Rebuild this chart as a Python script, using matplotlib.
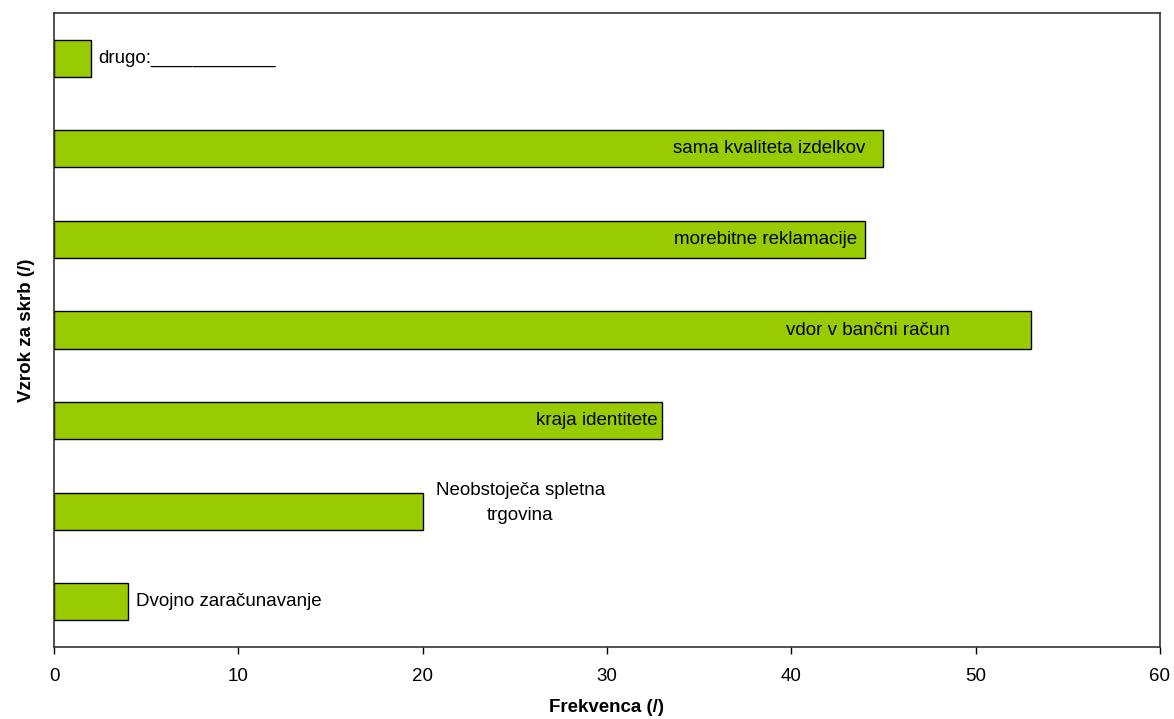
import matplotlib
matplotlib.use("Agg")
import matplotlib.pyplot as plt

plt.rcParams['font.family'] = ['Liberation Sans', 'DejaVu Sans']

categories = [
    "Dvojno zaračunavanje",
    "Neobstoječa spletna\ntrgovina",
    "kraja identitete",
    "vdor v bančni račun",
    "morebitne reklamacije",
    "sama kvaliteta izdelkov",
    "drugo:____________",
]
values = [4, 20, 33, 53, 44, 45, 2]
x_ticks = [0, 10, 20, 30, 40, 50, 60]

FS = 13.5

fig = plt.figure(figsize=(11.74, 7.19), dpi=100)
ax = fig.add_axes([0.046, 0.1001, 0.942, 0.8818])

ypos = list(range(len(values)))
ax.barh(ypos, values, height=0.41, color="#99CC00", edgecolor="black", linewidth=1.0)

ax.set_xlim(0, 60)
ax.set_ylim(-0.5, len(values) - 0.5)
ax.set_xticks(x_ticks)
ax.set_xticklabels([str(t) for t in x_ticks], fontsize=FS)
ax.set_yticks([])
ax.tick_params(axis='x', direction='out', length=5, width=1, pad=10)
for s in ax.spines.values():
    s.set_linewidth(1.2)
    s.set_color("#333333")

# label placement: (x offset from bar end, y offset, horizontal alignment)
placement = [
    (0.45, 0.0, 'left'),
    (5.3, 0.09, 'center'),
    (-0.27, 0.0, 'right'),
    (-4.4, 0.0, 'right'),
    (-0.43, 0.0, 'right'),
    (-1.0, 0.0, 'right'),
    (0.39, 0.0, 'left'),
]
for y, v, lab, (dx, dy, ha) in zip(ypos, values, categories, placement):
    ax.text(v + dx, y + dy, lab, ha=ha, va='center', fontsize=FS,
            multialignment='center', linespacing=1.55, color='black')

ax.set_xlabel("Frekvenca (/)", fontsize=FS, fontweight='bold', labelpad=10)
ax.set_ylabel("Vzrok za skrb (/)", fontsize=FS, fontweight='bold', labelpad=14)

fig.savefig("out.png", dpi=100)
